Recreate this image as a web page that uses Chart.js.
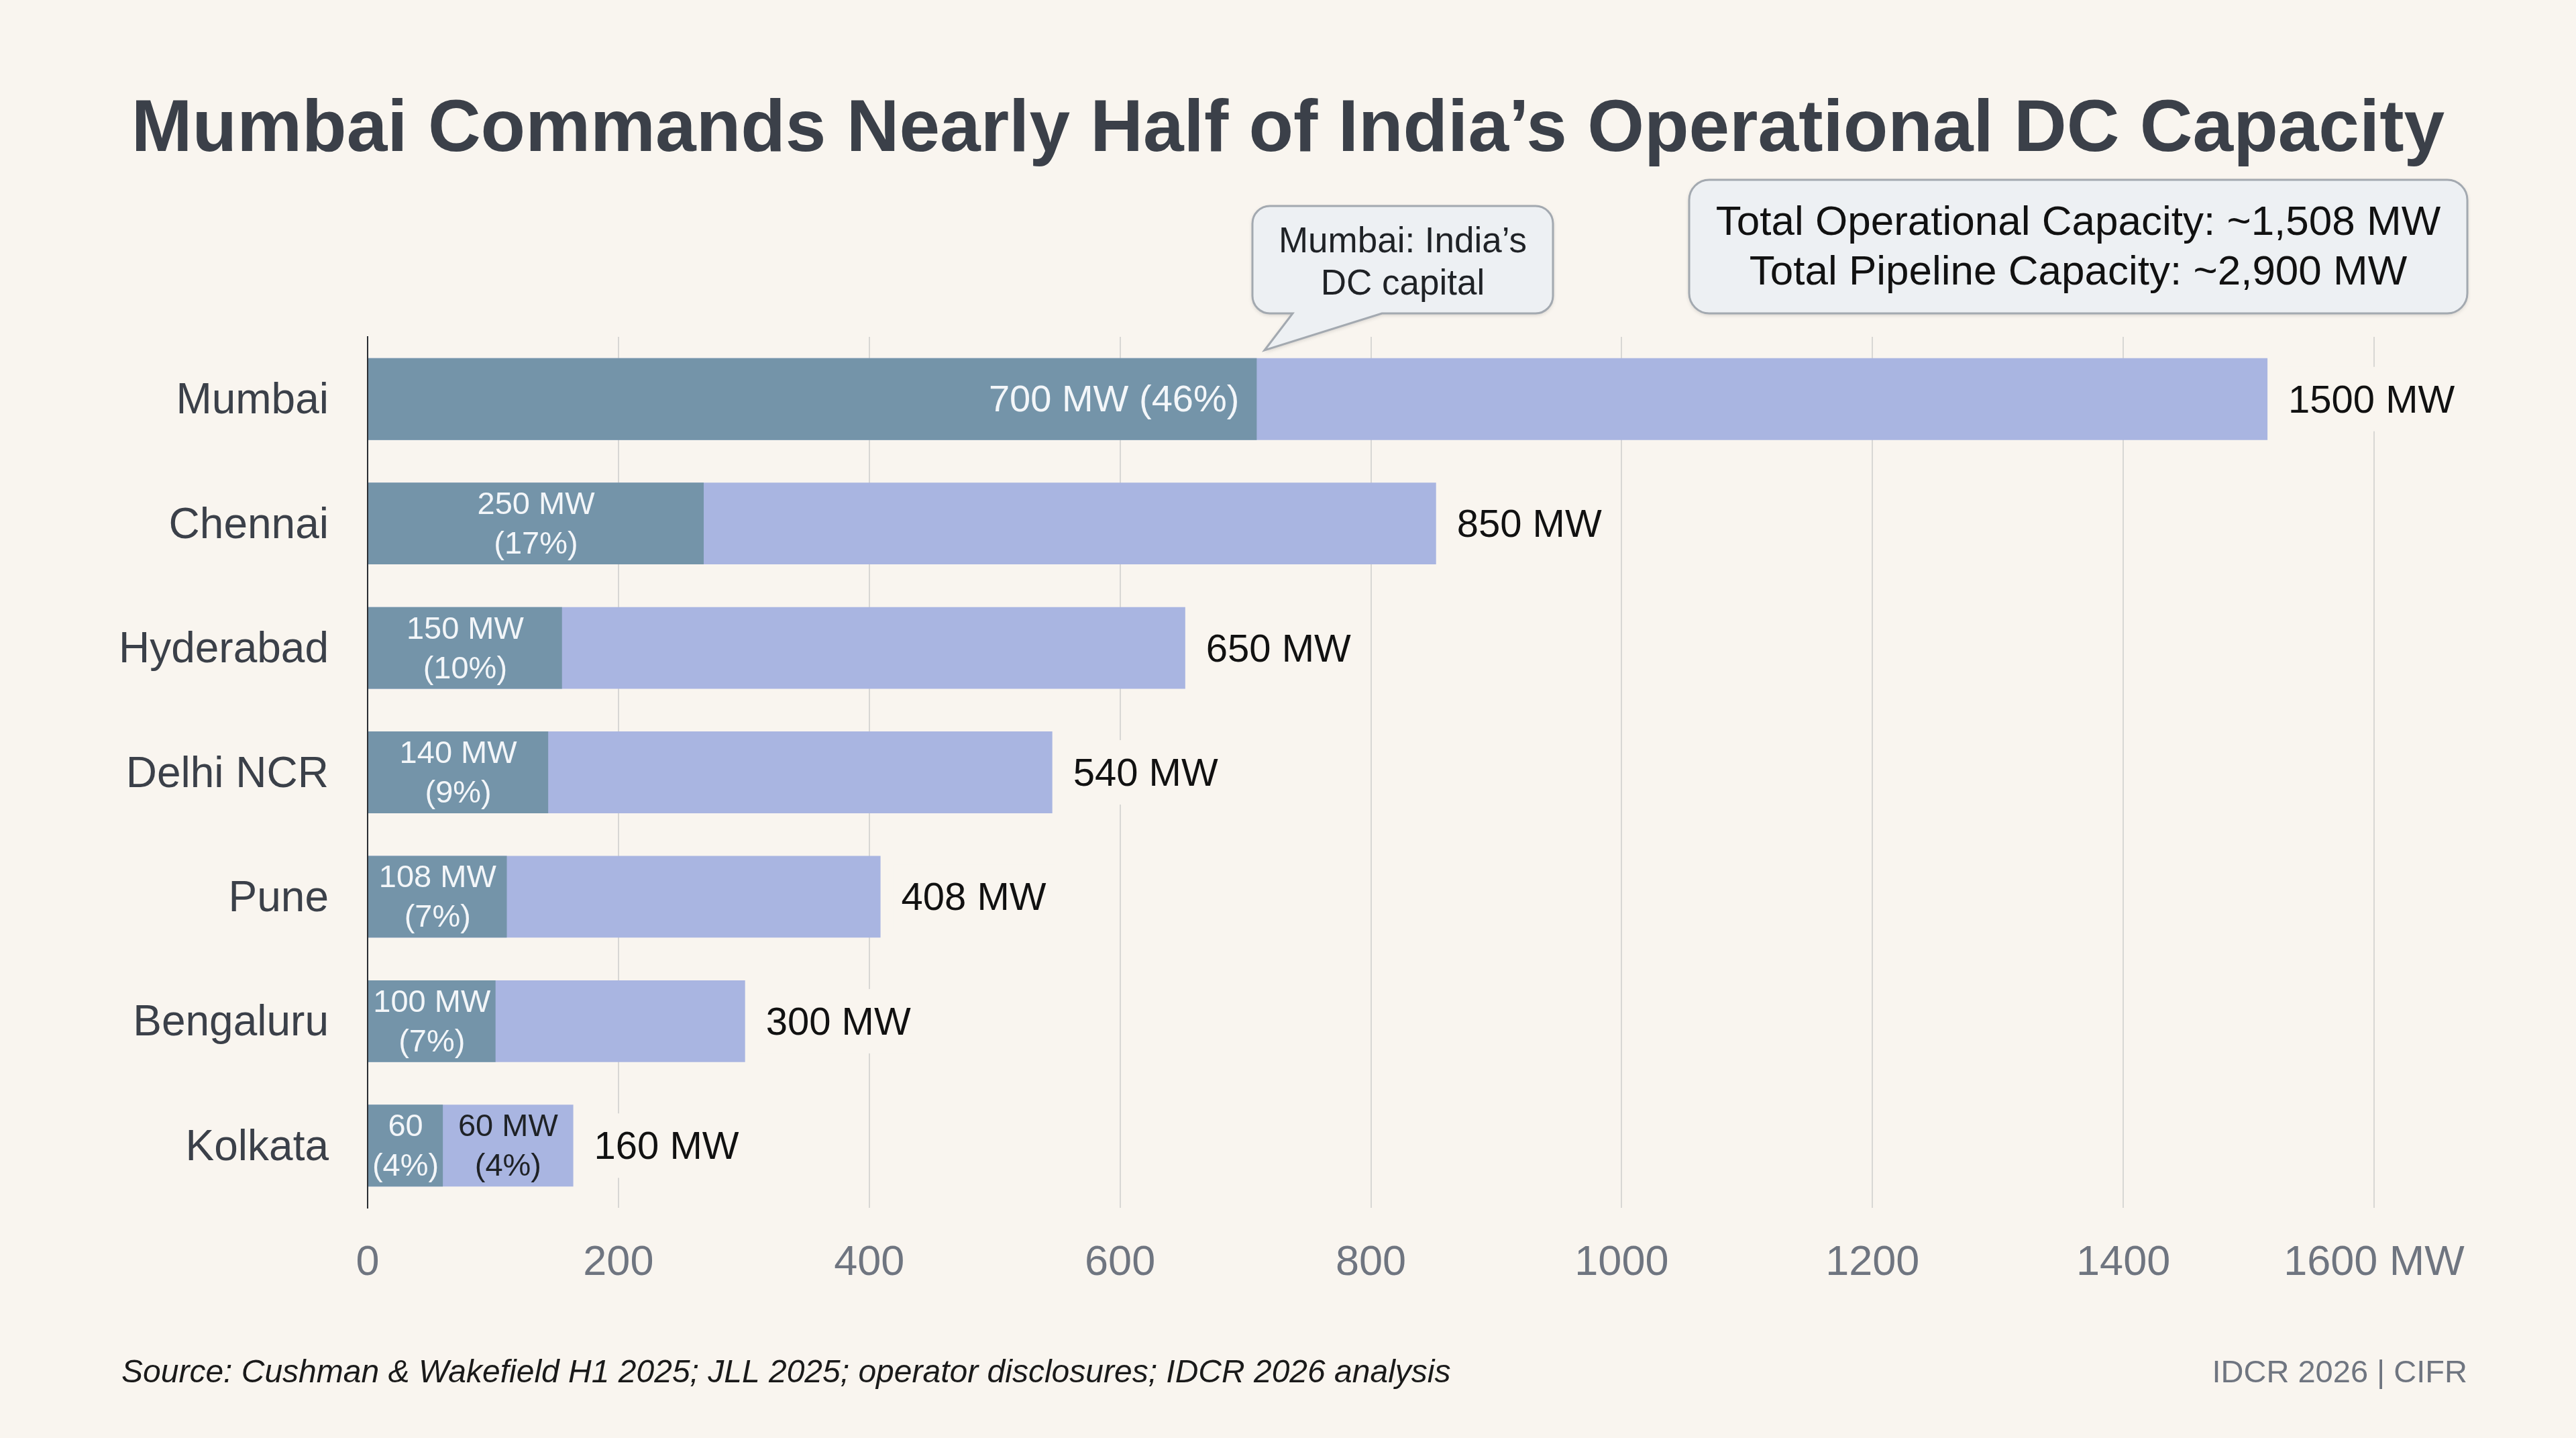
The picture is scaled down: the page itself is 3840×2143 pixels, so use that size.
<!DOCTYPE html>
<html>
<head>
<meta charset="utf-8">
<script src="https://cdn.jsdelivr.net/npm/chart.js@4.4.1/dist/chart.umd.min.js"></script>
<style>
  html, body { margin: 0; padding: 0; background: #f9f5ef; }
  #wrap { width: 3840px; height: 2143px; position: relative; }
</style>
</head>
<body>
<div id="wrap"><canvas id="dcCapacityChart"></canvas></div>
<script>
// 都市別 データセンター容量（MW）
const cities = ['Mumbai', 'Chennai', 'Hyderabad', 'Delhi NCR', 'Pune', 'Bengaluru', 'Kolkata'];
const operationalMw = [709, 268, 155, 144, 111, 102, 60];
const totalMw = [1515, 852, 652, 546, 409, 301, 164];
const xTickLabels = ['0', '200', '400', '600', '800', '1000', '1200', '1400', '1600 MW'];
const operationalLabels = [
    ['700 MW (46%)'], ['250 MW', '(17%)'], ['150 MW', '(10%)'], ['140 MW', '(9%)'],
    ['108 MW', '(7%)'], ['100 MW', '(7%)'], ['60', '(4%)']
];
const pipelineLabels = [null, null, null, null, null, null, ['60 MW', '(4%)']];
const totalLabels = ['1500 MW', '850 MW', '650 MW', '540 MW', '408 MW', '300 MW', '160 MW'];

const FONT = "'Liberation Sans', Arial, Helvetica, sans-serif";
const BG = '#f9f5ef';
Chart.defaults.font.family = FONT;

// バー上のラベル
const barLabelPlugin = {
    id: 'barLabels',
    afterDatasetsDraw(chart) {
        const ctx = chart.ctx;
        const opMeta = chart.getDatasetMeta(0);
        const totMeta = chart.getDatasetMeta(1);
        ctx.save();
        ctx.textBaseline = 'middle';
        opMeta.data.forEach((bar, i) => {
            const lines = operationalLabels[i];
            ctx.fillStyle = '#f3f6f9';
            if (lines.length === 1) {
                ctx.font = '56px ' + FONT;
                ctx.textAlign = 'right';
                ctx.fillText(lines[0], bar.x - 26, bar.y + 3);
            } else {
                ctx.font = '47px ' + FONT;
                ctx.textAlign = 'center';
                const cx = (bar.base + bar.x) / 2;
                ctx.fillText(lines[0], cx, bar.y - 27);
                ctx.fillText(lines[1], cx, bar.y + 32);
            }
            // パイプライン部分のラベル（Kolkataのみ）
            const pl = pipelineLabels[i];
            if (pl) {
                const tot = totMeta.data[i];
                ctx.fillStyle = '#1f2226';
                ctx.font = '47px ' + FONT;
                ctx.textAlign = 'center';
                const cx = (bar.x + tot.x) / 2;
                ctx.fillText(pl[0], cx, bar.y - 27);
                ctx.fillText(pl[1], cx, bar.y + 32);
            }
        });
        // 合計ラベル（背景つき）
        totMeta.data.forEach((bar, i) => {
            ctx.font = '58px ' + FONT;
            const w = ctx.measureText(totalLabels[i]).width;
            const x = bar.x + 31;
            ctx.fillStyle = BG;
            ctx.fillRect(x - 12, bar.y - 48, w + 24, 96);
            ctx.fillStyle = '#111';
            ctx.textAlign = 'left';
            ctx.fillText(totalLabels[i], x, bar.y + 4);
        });
        ctx.restore();
    }
};

// タイトル・吹き出し・注記・出典
const annotationPlugin = {
    id: 'annotations',
    afterDraw(chart) {
        const ctx = chart.ctx;
        ctx.save();

        // タイトル
        ctx.fillStyle = '#3b4049';
        ctx.textAlign = 'center';
        ctx.textBaseline = 'alphabetic';
        ctx.font = 'bold 109px ' + FONT;
        ctx.fillText('Mumbai Commands Nearly Half of India\u2019s Operational DC Capacity', 1920, 225);

        // Mumbai 吹き出し
        ctx.shadowColor = 'rgba(0,0,0,0.18)';
        ctx.shadowBlur = 6;
        ctx.shadowOffsetY = 2;
        ctx.beginPath();
        ctx.moveTo(1867 + 26, 307);
        ctx.lineTo(2315 - 26, 307);
        ctx.arcTo(2315, 307, 2315, 333, 26);
        ctx.lineTo(2315, 467 - 26);
        ctx.arcTo(2315, 467, 2289, 467, 26);
        ctx.lineTo(2060, 467);
        ctx.lineTo(1885, 522);
        ctx.lineTo(1927, 467);
        ctx.lineTo(1893, 467);
        ctx.arcTo(1867, 467, 1867, 441, 26);
        ctx.lineTo(1867, 333);
        ctx.arcTo(1867, 307, 1893, 307, 26);
        ctx.closePath();
        ctx.fillStyle = '#edf0f3';
        ctx.fill();
        ctx.shadowColor = 'transparent';
        ctx.strokeStyle = '#a3a9b0';
        ctx.lineWidth = 3;
        ctx.stroke();

        ctx.fillStyle = '#1f2226';
        ctx.textAlign = 'center';
        ctx.textBaseline = 'middle';
        ctx.font = '53px ' + FONT;
        ctx.fillText('Mumbai: India\u2019s', 2091, 361);
        ctx.fillText('DC capital', 2091, 424);

        // 合計ボックス
        ctx.shadowColor = 'rgba(0,0,0,0.18)';
        ctx.shadowBlur = 6;
        ctx.shadowOffsetY = 2;
        ctx.beginPath();
        ctx.roundRect(2518, 268, 1160, 199, 30);
        ctx.fillStyle = '#edf0f3';
        ctx.fill();
        ctx.shadowColor = 'transparent';
        ctx.strokeStyle = '#a3a9b0';
        ctx.lineWidth = 3;
        ctx.stroke();

        ctx.fillStyle = '#111';
        ctx.font = '62px ' + FONT;
        ctx.fillText('Total Operational Capacity: ~1,508 MW', 3098, 333);
        ctx.fillText('Total Pipeline Capacity: ~2,900 MW', 3098, 407);

        // 出典
        ctx.textAlign = 'left';
        ctx.fillStyle = '#1a1a1a';
        ctx.font = 'italic 48px ' + FONT;
        ctx.fillText('Source: Cushman & Wakefield H1 2025; JLL 2025; operator disclosures; IDCR 2026 analysis', 181, 2047);
        ctx.textAlign = 'right';
        ctx.fillStyle = '#6f7580';
        ctx.font = '47px ' + FONT;
        ctx.fillText('IDCR 2026 | CIFR', 3678, 2047);

        ctx.restore();
    }
};

new Chart(document.getElementById('dcCapacityChart').getContext('2d'), {
    type: 'bar',
    data: {
        labels: cities,
        datasets: [
            {
                label: 'Operational',
                data: operationalMw,
                backgroundColor: '#7494a9',
                grouped: false
            },
            {
                label: 'Total (incl. pipeline)',
                data: totalMw,
                backgroundColor: '#a9b5e1',
                grouped: false
            }
        ]
    },
    options: {
        indexAxis: 'y',
        responsive: true,
        maintainAspectRatio: false,
        devicePixelRatio: 1,
        animation: false,
        categoryPercentage: 1,
        barPercentage: 0.657,
        layout: { padding: { left: 0, right: 301, top: 502, bottom: 0 } },
        scales: {
            x: {
                min: 0,
                max: 1600,
                ticks: {
                    stepSize: 200,
                    color: '#6f7580',
                    font: { size: 63 },
                    padding: 45,
                    maxRotation: 0,
                    callback: (value, index) => xTickLabels[index]
                },
                grid: { color: '#d8d7d4', lineWidth: 2, drawTicks: false },
                border: { display: false },
                afterFit: (scale) => { scale.height = 343; }
            },
            y: {
                ticks: {
                    color: '#3b4049',
                    font: { size: 64 },
                    padding: 58,
                    labelOffset: 4
                },
                grid: { display: false, drawTicks: false },
                border: { color: '#2b2e33', width: 2 },
                afterFit: (scale) => { scale.width = 548; }
            }
        },
        plugins: {
            legend: { display: false },
            tooltip: { enabled: false },
            title: { display: false }
        }
    },
    plugins: [barLabelPlugin, annotationPlugin]
});
</script>
</body>
</html>
